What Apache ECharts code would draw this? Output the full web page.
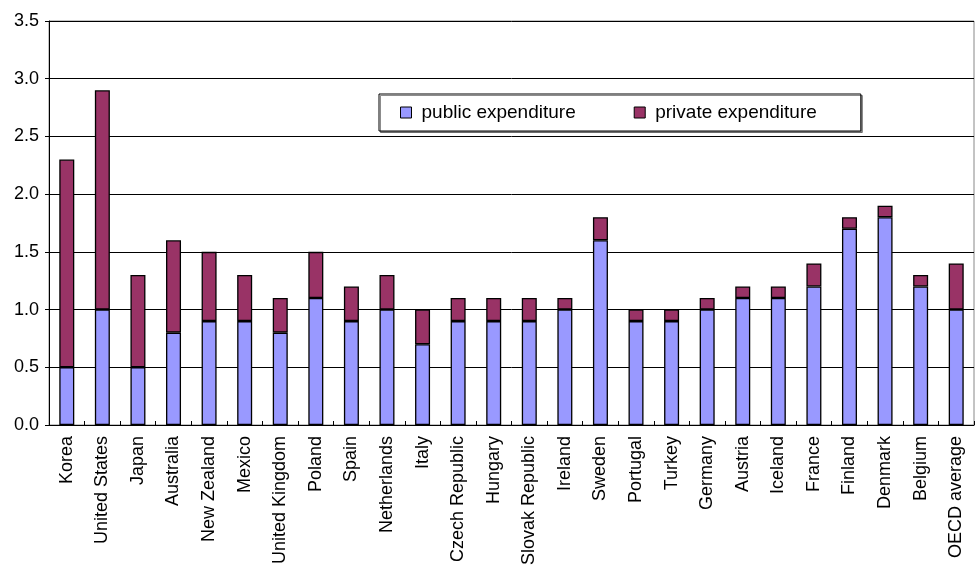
<!DOCTYPE html>
<html><head><meta charset="utf-8">
<script src="https://cdn.jsdelivr.net/npm/echarts@6/dist/echarts.min.js"></script>
<style>html,body{margin:0;padding:0;background:#fff}#c{width:976px;height:571px}</style>
</head><body><div id="c"></div>
<script>
const categories = ["Korea","United States","Japan","Australia","New Zealand","Mexico","United Kingdom","Poland","Spain","Netherlands","Italy","Czech Republic","Hungary","Slovak Republic","Ireland","Sweden","Portugal","Turkey","Germany","Austria","Iceland","France","Finland","Denmark","Belgium","OECD average"];
const publicExp = [0.5,1.0,0.5,0.8,0.9,0.9,0.8,1.1,0.9,1.0,0.7,0.9,0.9,0.9,1.0,1.6,0.9,0.9,1.0,1.1,1.1,1.2,1.7,1.8,1.2,1.0];
const privateExp = [1.8,1.9,0.8,0.8,0.6,0.4,0.3,0.4,0.3,0.3,0.3,0.2,0.2,0.2,0.1,0.2,0.1,0.1,0.1,0.1,0.1,0.2,0.1,0.1,0.1,0.4];
const yTicks = [0,0.5,1,1.5,2,2.5,3,3.5];

const chart = echarts.init(document.getElementById('c'));
const font = 'Liberation Sans, Arial, sans-serif';
chart.setOption({
  animation:false,
  grid:{left:49,right:2,top:21,bottom:146,show:true,borderColor:'#888',borderWidth:1},
  legend:{
    top:94,left:379,
    icon:'rect',
    itemGap:58,itemWidth:11,itemHeight:11,
    padding:[9,44,9,21],
    backgroundColor:'#fff',
    borderColor:'#000',borderWidth:1,
    shadowColor:'rgba(0,0,0,0.45)',shadowBlur:0,shadowOffsetX:1.5,shadowOffsetY:1.5,
    itemStyle:{borderColor:'#000',borderWidth:1},
    textStyle:{fontFamily:font,fontSize:19,color:'#000',padding:[0,0,0,5]},
    data:[{name:'public expenditure'},{name:'private expenditure'}]
  },
  xAxis:{
    type:'category',data:categories,
    axisLine:{lineStyle:{color:'#000',width:1}},
    axisTick:{show:true,inside:true,length:4,lineStyle:{color:'#000'}},
    axisLabel:{rotate:90,interval:0,fontFamily:font,fontSize:18,color:'#000',margin:11}
  },
  yAxis:{
    type:'value',min:0,max:3.5,interval:0.5,
    axisLine:{show:true,lineStyle:{color:'#000'}},
    axisTick:{show:true,length:4,lineStyle:{color:'#000'}},
    axisLabel:{fontFamily:font,fontSize:18,color:'#000',margin:10,formatter:v=>v.toFixed(1)},
    splitLine:{lineStyle:{color:'#000',width:1}}
  },
  series:[
    {name:'public expenditure',type:'bar',stack:'a',data:publicExp,barWidth:15,
     itemStyle:{color:'#9999FF',borderColor:'#000',borderWidth:1.3}},
    {name:'private expenditure',type:'bar',stack:'a',data:privateExp,barWidth:15,
     itemStyle:{color:'#993366',borderColor:'#000',borderWidth:1.3}}
  ]
});
</script></body></html>
